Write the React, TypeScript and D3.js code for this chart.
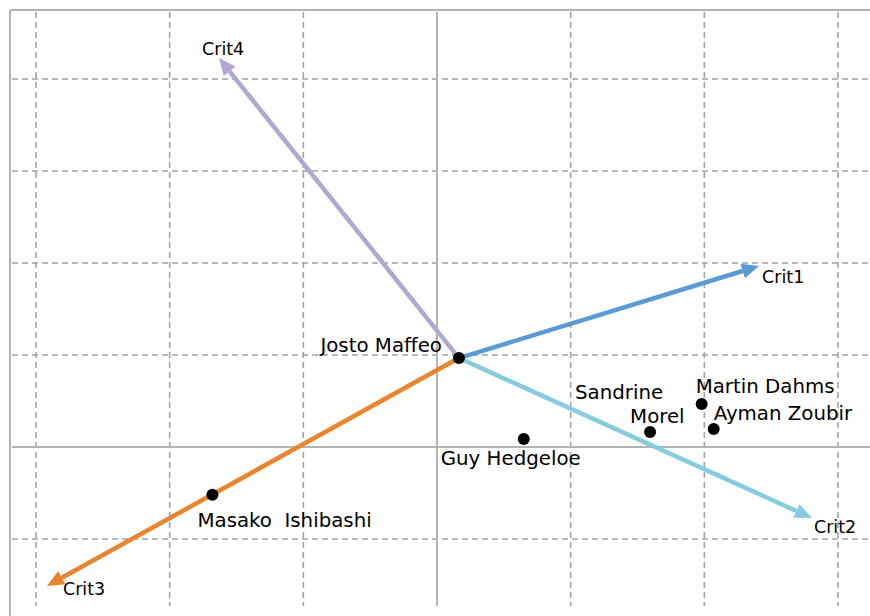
import React from "react";
import * as d3 from "d3";

const xTicks = [-3, -2, -1, 0, 1, 2, 3];
const yTicks = [-1, 0, 1, 2, 3, 4];

const personNames = ["Josto Maffeo", "Guy Hedgeloe", "Sandrine Morel", "Martin Dahms", "Ayman Zoubir", "Masako Ishibashi"];
const personX = [0.164, 0.649, 1.594, 1.98, 2.07, -1.68];
const personY = [0.967, 0.087, 0.163, 0.467, 0.196, -0.52];

const critNames = ["Crit1", "Crit2", "Crit3", "Crit4"];
const critX = [2.409, 2.805, -2.918, -1.631];
const critY = [1.967, -0.772, -1.511, 4.228];

const critColors = ["#5b9bd5", "#86cce0", "#e8852e", "#b3a7cf"];

// label layout (pixels, relative to the mark)
const personLabelLayout: Record<string, { lines: string[]; dx: number[]; dy: number[]; anchor: string }> = {
  "Josto Maffeo": { lines: ["Josto Maffeo"], dx: [-17], dy: [-6], anchor: "end" },
  "Guy Hedgeloe": { lines: ["Guy Hedgeloe"], dx: [-83], dy: [26], anchor: "start" },
  "Sandrine Morel": { lines: ["Sandrine", "Morel"], dx: [-75, -20], dy: [-33, -9], anchor: "start" },
  "Martin Dahms": { lines: ["Martin Dahms"], dx: [-6], dy: [-11], anchor: "start" },
  "Ayman Zoubir": { lines: ["Ayman Zoubir"], dx: [0], dy: [-9], anchor: "start" },
  "Masako Ishibashi": { lines: ["Masako\u00a0\u00a0Ishibashi"], dx: [-15], dy: [32], anchor: "start" },
};
const critLabelOffset: Record<string, [number, number]> = {
  Crit1: [3, 17],
  Crit2: [2, 15],
  Crit3: [16, 9],
  Crit4: [-17, -3],
};

const W = 870;
const H = 616;

export default function App() {
  const x = d3.scaleLinear().domain([-3, 3]).range([36, 838]);
  const y = d3.scaleLinear().domain([-1, 4]).range([539, 79]);
  const gridColor = "#a3a3a3";
  const ox = x(personX[0]);
  const oy = y(personY[0]);
  const font = "'DejaVu Sans', Verdana, sans-serif";

  const arrows = critNames.map((name, i) => {
    const tx = x(critX[i]);
    const ty = y(critY[i]);
    const dx = tx - ox;
    const dy = ty - oy;
    const len = Math.hypot(dx, dy);
    const ux = dx / len;
    const uy = dy / len;
    const headLen = 17;
    const headW = 7.5;
    const bx = tx - ux * headLen;
    const by = ty - uy * headLen;
    const px = -uy;
    const py = ux;
    const head = `M${tx},${ty}L${bx + px * headW},${by + py * headW}L${bx - px * headW},${by - py * headW}Z`;
    return { name, tx, ty, bx, by, head, color: critColors[i] };
  });

  return (
    <div style={{ position: "absolute", left: 0, top: 0 }}>
      <svg width={W} height={H} style={{ display: "block", background: "#fff" }}>
        {/* grid */}
        {xTicks.map((t) =>
          t === 0 ? null : (
            <line key={"vx" + t} x1={x(t)} x2={x(t)} y1={12} y2={606} stroke={gridColor} strokeWidth={1.6} strokeDasharray="6,4" />
          )
        )}
        {yTicks.map((t) =>
          t === 0 ? null : (
            <line key={"hy" + t} x1={12} x2={W} y1={y(t)} y2={y(t)} stroke={gridColor} strokeWidth={1.6} strokeDasharray="6,4" />
          )
        )}
        {/* axes */}
        <line x1={x(0)} x2={x(0)} y1={12} y2={606} stroke="#b4b4b4" strokeWidth={2} />
        <line x1={12} x2={W} y1={y(0)} y2={y(0)} stroke="#b4b4b4" strokeWidth={2} />
        {/* frame */}
        <line x1={10} x2={W} y1={10} y2={10} stroke="#b4b4b4" strokeWidth={2} />
        <line x1={10} x2={10} y1={10} y2={H} stroke="#b4b4b4" strokeWidth={2} />

        {/* arrows */}
        {arrows.map((a) => (
          <g key={a.name}>
            <line x1={ox} y1={oy} x2={a.bx} y2={a.by} stroke={a.color} strokeWidth={4.5} />
            <path d={a.head} fill={a.color} />
            <text
              x={a.tx + critLabelOffset[a.name][0]}
              y={a.ty + critLabelOffset[a.name][1]}
              fontFamily={font}
              fontSize={17.5}
              fill="#000"
            >
              {a.name}
            </text>
          </g>
        ))}

        {/* points */}
        {personNames.map((n, i) => {
          const cx = x(personX[i]);
          const cy = y(personY[i]);
          const lay = personLabelLayout[n];
          return (
            <g key={n}>
              <circle cx={cx} cy={cy} r={6} fill="#000" />
              {lay.lines.map((ln, j) => (
                <text
                  key={j}
                  x={cx + lay.dx[j]}
                  y={cy + lay.dy[j]}
                  textAnchor={lay.anchor}
                  fontFamily={font}
                  fontSize={19.8}
                  fill="#000"
                >
                  {ln}
                </text>
              ))}
            </g>
          );
        })}
      </svg>
    </div>
  );
}
